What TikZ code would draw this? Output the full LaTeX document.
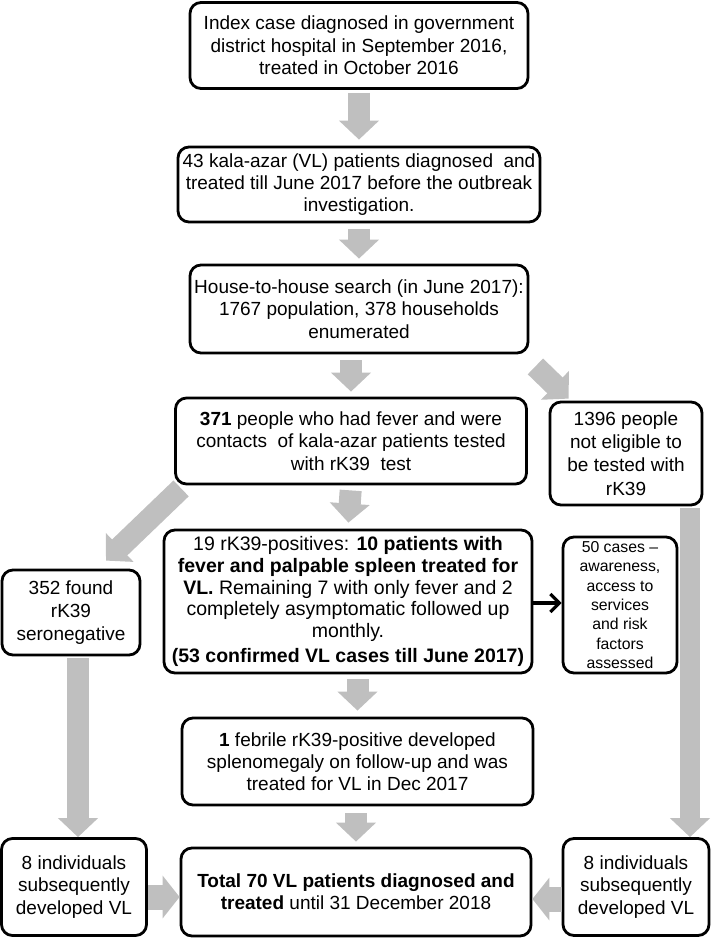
\documentclass[tikz,border=0pt]{standalone}
\usepackage{fontspec}
\setmainfont{Liberation Sans}
\usetikzlibrary{arrows.meta}
\definecolor{arrowgray}{RGB}{191,191,191}

\begin{document}
\begin{tikzpicture}[x=1pt,y=-1pt,
        box/.style={draw, line width=2.8pt, rounded corners=11pt, align=center, inner sep=0pt,
            font=\fontsize{19}{22.3}\selectfont},
        fat/.style={draw=arrowgray, line width=22pt, -{Triangle[width=39pt,length=19pt]}},
        fatside/.style={fat, line width=25pt, -{Triangle[width=42pt,length=17pt]}}]
        \useasboundingbox (0,0) rectangle (711,938);
        % main column
        \node[box, minimum width=338pt, minimum height=86pt] (idx) at (359,45.5)
            {Index case diagnosed in government\\ district hospital in September 2016,\\ treated in October 2016};
        \node[box, minimum width=362pt, minimum height=75pt] (pre) at (359,184.5)
            {43 kala-azar (VL) patients diagnosed\ \ and\\ treated till June 2017 before the outbreak\\ investigation.};
        \node[box, minimum width=338pt, minimum height=88pt] (hh) at (359,309)
            {House-to-house search (in June 2017):\\ 1767 population, 378 households\\ enumerated};
        \node[box, minimum width=351pt, minimum height=86pt] (tst) at (351,441)
            {\textbf{371} people who had fever and were\\ contacts\ \ of kala-azar patients tested\\ with rK39\ \ test};
        \node[box, minimum width=368pt, minimum height=143pt, font=\fontsize{19.5}{21.8}\selectfont] (pos) at (348,601.5)
            {19 rK39-positives: \textbf{10 patients with}\\ \textbf{fever and palpable spleen treated for}\\
             \textbf{VL.} Remaining 7 with only fever and 2\\ completely asymptomatic followed up\\
             monthly.\\[3pt] \textbf{(53 confirmed VL cases till June 2017)}};
        \node[box, minimum width=351pt, minimum height=87pt] (feb) at (357.5,761.5)
            {\textbf{1} febrile rK39-positive developed\\ splenomegaly on follow-up and was\\ treated for VL in Dec 2017};
        \node[box, minimum width=350pt, minimum height=88pt] (tot) at (356,892)
            {\textbf{Total 70 VL patients diagnosed and}\\ \textbf{treated} until 31 December 2018};
        % side boxes
        \node[box, minimum width=152pt, minimum height=103pt, font=\fontsize{19}{23.3}\selectfont] (nel) at (626,453.5)
            {1396 people\\ not eligible to\\ be tested with\\ rK39};
        \node[box, minimum width=138pt, minimum height=85pt, font=\fontsize{19}{23.3}\selectfont] (neg) at (71,612.5)
            {352 found\\ rK39\\ seronegative};
        \node[box, minimum width=114pt, minimum height=136pt, font=\fontsize{15.8}{19.4}\selectfont] (svy) at (620,605)
            {50 cases --\\ awareness,\\ access to\\ services\\ and risk\\ factors\\ assessed};
        \node[box, minimum width=145pt, minimum height=97pt] (lft) at (74,887)
            {8 individuals\\ subsequently\\ developed VL};
        \node[box, minimum width=146pt, minimum height=97pt] (rgt) at (636,887)
            {8 individuals\\ subsequently\\ developed VL};
        % gray arrows
        \draw[fat, shorten <=3pt, shorten >=6pt] (idx.south) -- (pre.north);
        \draw[fat, shorten <=6pt, shorten >=5pt] (pre.south) -- (hh.north);
        \draw[fat, shorten <=6pt, shorten >=5pt] (hh.south -| tst) -- (tst.north);
        \draw[fat, shorten <=5pt, shorten >=6pt] (tst.south) -- (pos.north);
        \draw[fat, shorten <=5pt, shorten >=6pt] (pos.south -| feb) -- (feb.north);
        \draw[fat, shorten <=7pt, shorten >=5pt] (feb.south -| tot) -- (tot.north);
        \draw[fat] ([shift={(6,12)}]hh.south east) -- ([shift={(20,-2)}]nel.north west);
        \draw[fat] ([shift={(7,3)}]tst.south west) -- ([shift={(35,-8)}]neg.north);
        \draw[fat, shorten <=2pt] ([xshift=7pt]neg.south) -- ([xshift=4pt]lft.north);
        \draw[fat, line width=20pt, shorten <=2pt] ([xshift=64pt]nel.south) -- ([xshift=54pt]rgt.north);
        \draw[fatside] (lft.east |- 0,897) -- (tot.west |- 0,897);
        \draw[fatside] (rgt.west |- 0,899) -- (tot.east |- 0,899);
        % black arrow
        \draw[line width=3.2pt, -{Straight Barb[length=9pt,width=18pt]}] (pos.east |- 0,603) -- (svy.west |- 0,603);
    \end{tikzpicture}
\end{document}
